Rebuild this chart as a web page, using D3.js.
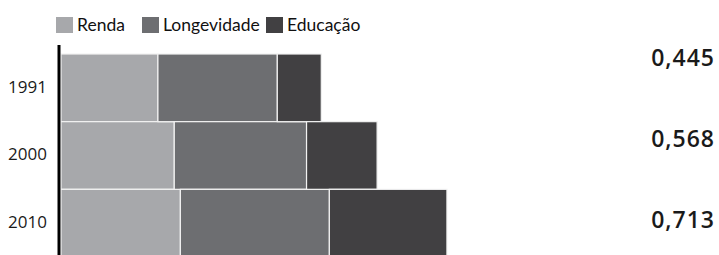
<!DOCTYPE html>
<html>
<head>
<meta charset="utf-8">
<script src="https://cdn.jsdelivr.net/npm/d3@7"></script>
<style>
  body { margin: 0; background: #fff; }
</style>
</head>
<body>
<div id="chart"></div>
<script>
// Layout
const width = 719;
const height = 255;

// Data
const years = ["1991", "2000", "2010"];
const components = ["Renda", "Longevidade", "Educação"];
const renda = [0.540, 0.631, 0.665];
const longevidade = [0.665, 0.737, 0.830];
const educacao = [0.245, 0.393, 0.655];
const idhm = ["0,445", "0,568", "0,713"];

const colors = ["#a7a8ab", "#6d6e71", "#414042"];

// rows: one object per year, stacked by component
const rows = years.map((y, i) => ({
  year: y,
  "Renda": renda[i],
  "Longevidade": longevidade[i],
  "Educação": educacao[i],
  idhm: idhm[i]
}));

const stack = d3.stack().keys(components)(rows);

const x = d3.scaleLinear()
  .domain([0, 1])
  .range([61, 240.5]);

const y = d3.scaleBand()
  .domain(years)
  .range([54, 257])
  .padding(0);

// the IDHM values are not centred on the bars in the original
const yValue = d3.scalePoint()
  .domain(years)
  .range([66, 228]);

const color = d3.scaleOrdinal()
  .domain(components)
  .range(colors);

let svg = d3.select("#chart").append("svg")
  .attr("width", width)
  .attr("height", height)
  .style("font-family", "'Open Sans', sans-serif");

// bars
svg.append("g").selectAll("g").data(stack).join("g")
  .attr("fill", d => color(d.key))
  .selectAll("rect").data(d => d).join("rect")
    .attr("x", d => x(d[0]))
    .attr("y", d => y(d.data.year))
    .attr("width", d => x(d[1]) - x(d[0]))
    .attr("height", y.bandwidth())
    .attr("stroke", "#f2f2f2")
    .attr("stroke-width", 1.2);

// axis (just the spine, no ticks)
const yAxis = svg.append("g")
  .attr("transform", "translate(59,0)")
  .call(d3.axisLeft(y).tickSize(0).tickPadding(12));

yAxis.select(".domain")
  .attr("d", "M0,45V255")
  .attr("stroke", "#000")
  .attr("stroke-width", 3);

yAxis.selectAll("text")
  .attr("dy", "0.28em")
  .style("font-size", "17px")
  .style("font-family", "'Open Sans', sans-serif")
  .attr("fill", "#1a1a1a");

// IDHM values on the right
svg.append("g").selectAll("text").data(rows).join("text")
  .attr("x", 715)
  .attr("y", d => yValue(d.year))
  .attr("text-anchor", "end")
  .style("font-size", "23px")
  .style("font-weight", 600)
  .style("letter-spacing", "1px")
  .attr("fill", "#1a1a1a")
  .text(d => d.idhm);

// legend
const legendX = [56, 142, 266];
const legend = svg.append("g").selectAll("g").data(components).join("g")
  .attr("transform", (d, i) => `translate(${legendX[i]},17)`);

legend.append("rect")
  .attr("width", 17)
  .attr("height", 16)
  .attr("fill", d => color(d));

legend.append("text")
  .attr("x", 21)
  .attr("y", 13.5)
  .style("font-size", "17.5px")
  .style("font-family", "Lato, sans-serif")
  .attr("fill", "#111")
  .text(d => d);
</script>
</body>
</html>
